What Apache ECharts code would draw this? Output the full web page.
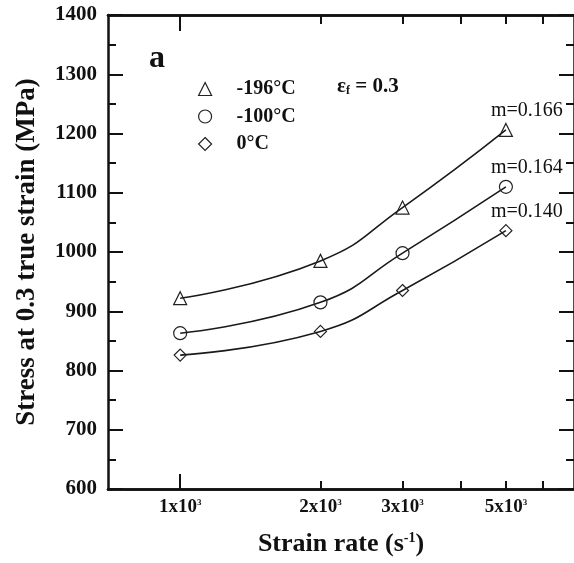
<!DOCTYPE html>
<html>
<head>
<meta charset="utf-8">
<script src="https://cdn.jsdelivr.net/npm/echarts@6/dist/echarts.min.js"></script>
<style>
html,body{margin:0;padding:0;background:#fff;}
#chart{width:574px;height:563px;}
</style>
</head>
<body>
<div id="chart"></div>
<script>
// ---- data ----
const strainRates = [1000, 2000, 3000, 5000];
const stressM196 = [922, 985, 1075, 1206];
const stressM100 = [863, 915, 998, 1110];
const stress0 = [826, 866, 935, 1036];
const seriesNames = ['-196°C', '-100°C', '0°C'];
const seriesSymbols = ['triangle', 'circle', 'diamond'];
const mLabels = ['m=0.166', 'm=0.164', 'm=0.140'];
const xMajorTicks = [1000];
const xMinorTicks = [2000, 3000, 4000, 5000, 6000];
const xLabelValues = [1000, 2000, 3000, 5000];
const xLabelTexts = ['1x10', '2x10', '3x10', '5x10'];
const xRange = [700, 7000];
const yRange = [600, 1400];
const yStep = 100;

const FONT = "'Liberation Serif', 'Times New Roman', serif";
const INK = '#111';

const chart = echarts.init(document.getElementById('chart'));

function xAxisDef(pos, ticks, len, withLabels, withName) {
  return {
    type: 'log', position: pos, min: xRange[0], max: xRange[1], gridIndex: 0,
    axisLine: { show: true, onZero: false, lineStyle: { color: INK, width: 2.5 } },
    axisTick: { show: true, inside: true, length: len, customValues: ticks, lineStyle: { color: INK, width: 2 } },
    minorTick: { show: false },
    splitLine: { show: false },
    axisLabel: withLabels ? {
      show: true, customValues: xLabelValues, margin: 9,
      fontFamily: FONT, fontWeight: 'bold', fontSize: 19, color: INK,
      formatter: function (v) {
        const i = xLabelValues.indexOf(Math.round(v));
        return (i >= 0 ? xLabelTexts[i] : '') + '{s|3}';
      },
      rich: { s: { fontSize: 9, fontWeight: 'bold', fontFamily: FONT, color: INK, verticalAlign: 'top', padding: [0, 0, 9, 0] } }
    } : { show: false },
    name: withName ? 'Strain rate (s{sup|-1})' : '',
    nameLocation: 'middle', nameGap: 42,
    nameTextStyle: {
      fontFamily: FONT, fontWeight: 'bold', fontSize: 26, color: INK,
      rich: { sup: { fontFamily: FONT, fontWeight: 'bold', fontSize: 14, color: INK, verticalAlign: 'top', padding: [0, 0, 12, 0] } }
    }
  };
}

function yAxisDef(pos, withLabels) {
  return {
    type: 'value', position: pos, min: yRange[0], max: yRange[1], interval: yStep, gridIndex: 0,
    axisLine: { show: true, onZero: false, lineStyle: { color: INK, width: 2.5 } },
    axisTick: { show: true, inside: true, length: 15, lineStyle: { color: INK, width: 2 } },
    minorTick: { show: true, splitNumber: 2, length: 8, lineStyle: { color: INK, width: 2 } },
    splitLine: { show: false },
    axisLabel: withLabels ? {
      show: true, margin: 11, fontFamily: FONT, fontWeight: 'bold', fontSize: 21, color: INK,
      formatter: function (v) { return String(v); }
    } : { show: false },
    name: withLabels ? 'Stress at 0.3 true strain (MPa)' : '',
    nameLocation: 'middle', nameGap: 67,
    nameTextStyle: { fontFamily: FONT, fontWeight: 'bold', fontSize: 27, color: INK }
  };
}

function buildSeries(name, ys, sym, label, idx) {
  const data = strainRates.map(function (x, i) {
    const item = { value: [x, ys[i]] };
    if (i === strainRates.length - 1) {
      item.label = {
        show: true, position: 'top', distance: 5, offset: [21, 3],
        formatter: label, fontFamily: FONT, fontSize: 20, color: INK
      };
    }
    return item;
  });
  return {
    name: name, type: 'line', xAxisIndex: 0, yAxisIndex: 0,
    smooth: 0.5, data: data,
    symbol: sym, symbolSize: sym === 'diamond' ? 12 : 13,
    lineStyle: { color: '#1a1a1a', width: 1.6 },
    itemStyle: { color: 'rgba(255,255,255,0)', borderColor: '#222', borderWidth: 1.2 },
    emphasis: { disabled: true },
    z: 3 + idx
  };
}

const option = {
  animation: false,
  backgroundColor: '#fff',
  grid: { left: 108, top: 15, width: 472, height: 474, containLabel: false },
  xAxis: [
    xAxisDef('bottom', xMajorTicks, 15, true, true),
    xAxisDef('bottom', xMinorTicks, 8, false, false),
    xAxisDef('top', xMajorTicks, 16, false, false),
    xAxisDef('top', xMinorTicks, 9, false, false)
  ],
  yAxis: [yAxisDef('left', true), yAxisDef('right', false)],
  legend: {
    show: true, orient: 'vertical', left: 193, top: 74,
    itemWidth: 13, itemHeight: 13, itemGap: 7.5, selectedMode: false,
    data: seriesNames.map(function (n, i) { return { name: n, icon: seriesSymbols[i] }; }),
    itemStyle: { color: 'rgba(255,255,255,0)', borderColor: '#222', borderWidth: 1.2 },
    textStyle: { fontFamily: FONT, fontWeight: 'bold', fontSize: 20, color: INK, padding: [0, 0, 0, 20] }
  },
  graphic: [
    { type: 'text', left: 149, top: 43, style: { text: 'a', fontFamily: FONT, fontWeight: 'bold', fontSize: 32, fill: INK } },
    { type: 'text', left: 337, top: 76, style: {
        text: 'ε{sub|f} = 0.3', fontFamily: FONT, fontWeight: 'bold', fontSize: 21, fill: INK,
        rich: { sub: { fontFamily: FONT, fontWeight: 'bold', fontSize: 12, fill: INK, verticalAlign: 'bottom', padding: [8, 0, 0, 0] } }
    } }
  ],
  series: [
    buildSeries(seriesNames[0], stressM196, seriesSymbols[0], mLabels[0], 0),
    buildSeries(seriesNames[1], stressM100, seriesSymbols[1], mLabels[1], 1),
    buildSeries(seriesNames[2], stress0, seriesSymbols[2], mLabels[2], 2)
  ]
};
chart.setOption(option);
</script>
</body>
</html>
